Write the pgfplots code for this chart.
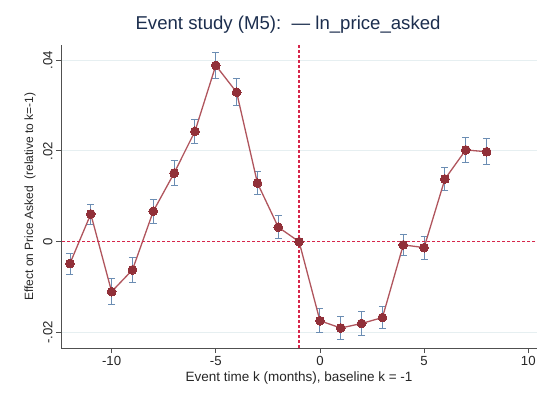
\documentclass[border=0pt]{standalone}
\usepackage{pgfplots}
\pgfplotsset{compat=1.18}
\usepackage{pgfplotstable}
\usepackage{fontspec}
\setmainfont{Liberation Sans}
\definecolor{mk}{HTML}{913039}
\definecolor{ln}{HTML}{B0555D}
\definecolor{eb}{HTML}{6B8DB3}
\definecolor{refc}{rgb}{0.84,0.15,0.29}
\definecolor{axgray}{HTML}{505050}
\definecolor{gridc}{HTML}{E6EFF1}
\definecolor{ttl}{HTML}{1C2E4E}
\pgfplotstableread{
k b e
-12 -0.0048 0.0023
-11 0.0061 0.0022
-10 -0.0110 0.0029
-9 -0.0062 0.0028
-8 0.0067 0.0027
-7 0.0151 0.0028
-6 0.0243 0.0026
-5 0.0388 0.0028
-4 0.0329 0.0030
-3 0.0129 0.0025
-2 0.0032 0.0025
-1 0 0
0 -0.0174 0.0026
1 -0.0190 0.0025
2 -0.0180 0.0026
3 -0.0167 0.0025
4 -0.0007 0.0024
5 -0.0013 0.0025
6 0.0138 0.0026
7 0.0202 0.0028
8 0.0198 0.0029
}\est
\pgfplotstableread{
x y
-1 -0.0234
-1 0.0433
}\vreftab
\begin{document}
\begin{tikzpicture}
\useasboundingbox (-61pt,-46pt) rectangle (482pt,348pt);
\begin{axis}[
 scale only axis, width=476pt, height=303pt,
 xmin=-12.43, xmax=10.42, ymin=-0.0234, ymax=0.0433,
 axis x line*=bottom, axis y line*=left,
 axis line style={color=axgray, line width=0.8pt},
 xtick={-10,-5,0,5,10}, xticklabels={-10,-5,0,5,10},
 ytick={-0.02,0.02,0.04}, yticklabels={-.02,.02,.04},
 extra y ticks={0}, extra y tick labels={0},
 extra y tick style={grid=none},
 scaled y ticks=false,
 tick align=outside, major tick length=5pt,
 tick style={color=axgray, line width=0.8pt},
 ymajorgrids, grid style={color=gridc, line width=0.9pt},
 ticklabel style={font=\fontsize{13.2}{15}\selectfont, text=black!85},
 xticklabel style={anchor=north, yshift=0pt},
 yticklabel style={rotate=90, anchor=south, xshift=0pt},
 xlabel={Event time k (months), baseline k = -1},
 xlabel style={font=\fontsize{13.5}{15}\selectfont, text=black!85, at={(axis description cs:0.5,-0.099)}, anchor=center},
 ylabel={Effect on Price Asked\ \ (relative to k=-1)},
 ylabel style={font=\fontsize{12}{14}\selectfont, text=black!85, at={(axis description cs:-0.065,0.5)}, anchor=center},
 title={Event study (M5):\ \ --- ln\_price\_asked},
 title style={font=\fontsize{18.6}{21}\selectfont, text=ttl, at={(axis description cs:0.477,1.046)}, anchor=center},
 clip=false,
]
% horizontal reference line at 0, drawn as short solid dashes
\addplot[only marks, mark=-, mark size=1.6pt, mark options={draw=refc, line width=1.4pt, solid}, forget plot] coordinates {
(-12.30,0) (-12.06,0) (-11.82,0) (-11.58,0) (-11.34,0) (-11.10,0) (-10.86,0) (-10.62,0) (-10.38,0) (-10.14,0)
(-9.90,0) (-9.66,0) (-9.42,0) (-9.18,0) (-8.94,0) (-8.70,0) (-8.46,0) (-8.22,0) (-7.98,0) (-7.74,0)
(-7.50,0) (-7.26,0) (-7.02,0) (-6.78,0) (-6.54,0) (-6.30,0) (-6.06,0) (-5.82,0) (-5.58,0) (-5.34,0)
(-5.10,0) (-4.86,0) (-4.62,0) (-4.38,0) (-4.14,0) (-3.90,0) (-3.66,0) (-3.42,0) (-3.18,0) (-2.94,0)
(-2.70,0) (-2.46,0) (-2.22,0) (-1.98,0) (-1.74,0) (-1.50,0) (-1.26,0) (-1.02,0) (-0.78,0) (-0.54,0)
(-0.30,0) (-0.06,0) (0.18,0) (0.42,0) (0.66,0) (0.90,0) (1.14,0) (1.38,0) (1.62,0) (1.86,0)
(2.10,0) (2.34,0) (2.58,0) (2.82,0) (3.06,0) (3.30,0) (3.54,0) (3.78,0) (4.02,0) (4.26,0)
(4.50,0) (4.74,0) (4.98,0) (5.22,0) (5.46,0) (5.70,0) (5.94,0) (6.18,0) (6.42,0) (6.66,0)
(6.90,0) (7.14,0) (7.38,0) (7.62,0) (7.86,0) (8.10,0) (8.34,0) (8.58,0) (8.82,0) (9.06,0)
(9.30,0) (9.54,0) (9.78,0) (10.02,0) (10.26,0)
};
\addplot[refc, mark=none, line width=1.4pt, densely dashed, forget plot] table[x=x,y=y]{\vreftab};
\addplot[draw=none, mark=none, forget plot, error bars/.cd, y dir=both, y explicit,
  error bar style={eb, line width=0.9pt},
  error mark options={eb, line width=0.9pt, mark size=3.5pt, rotate=90}]
  table[x=k, y=b, y error=e]{\est};
\addplot[color=ln, line width=1.3pt, mark=*, mark size=4.4pt, mark options={fill=mk, draw=mk, line width=0pt}]
  table[x=k, y=b]{\est};
\end{axis}
\end{tikzpicture}
\end{document}
